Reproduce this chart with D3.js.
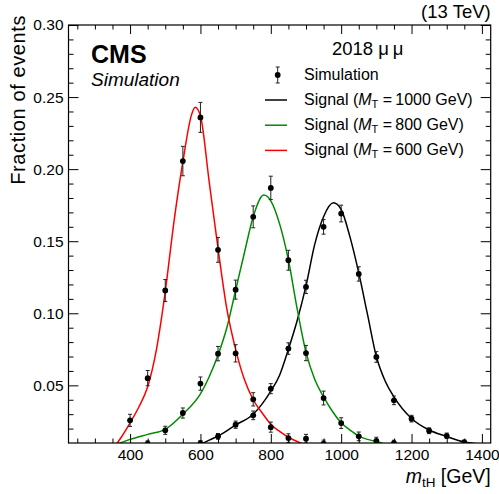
<!DOCTYPE html>
<html><head><meta charset="utf-8">
<script src="https://cdn.jsdelivr.net/npm/d3@7"></script>
<style>
body{margin:0;background:#fff}
svg{display:block}
text{font-family:"Liberation Sans",Arial,Helvetica,sans-serif;fill:#000}
</style>
</head><body>
<svg id="c" width="499" height="494"></svg>
<script>
// ---- data ----
const massBins = [400,450,500,550,600,650,700,750,800,850,900,950,1000,1050,1100,1150,1200,1250,1300,1350];

const sim600    = [0.0257,0.0550,0.1158,0.2056,0.2359,0.1440,0.0722,0.0403,0.0210,0.0134,0.0130,0.0095,null,null,null,null,null,null,null,null];
const sim600Err = [0.0042,0.0053,0.0076,0.0102,0.0104,0.0086,0.0060,0.0046,0.0035,0.0030,0.0030,0.0025,null,null,null,null,null,null,null,null];

const sim800    = [null,0.0095,0.0188,0.0308,0.0512,0.0720,0.1164,0.1669,0.1870,0.1368,0.0724,0.0412,0.0238,0.0146,0.0115,0.0099,null,null,null,null];
const sim800Err = [null,0.0020,0.0028,0.0035,0.0046,0.0050,0.0066,0.0076,0.0081,0.0069,0.0053,0.0048,0.0037,0.0030,0.0025,0.0020,null,null,null,null];

const sim1000    = [null,null,null,null,0.0097,0.0146,0.0227,0.0292,0.0477,0.0755,0.1183,0.1600,0.1692,0.1273,0.0697,0.0396,0.0269,0.0185,0.0150,0.0104];
const sim1000Err = [null,null,null,null,0.0020,0.0020,0.0025,0.0030,0.0035,0.0040,0.0046,0.0051,0.0058,0.0050,0.0037,0.0030,0.0023,0.0020,0.0019,0.0017];

// fitted signal shapes, sampled by eye
const fit600X = [362,375,400,425,450,475,500,525,550,575,585,600,625,650,675,700,725,750,775,800,825,850,875,895];
const fit600Y = [0.0095,0.014,0.024,0.035,0.049,0.075,0.115,0.164,0.205,0.238,0.243,0.237,0.191,0.145,0.103,0.075,0.054,0.040,0.031,0.023,0.018,0.014,0.011,0.009];

const fit800X = [366,400,450,500,550,600,625,650,675,700,725,750,780,800,825,850,875,900,925,950,975,1000,1025,1050,1075,1100,1120];
const fit800Y = [0.0095,0.0125,0.016,0.0195,0.030,0.044,0.056,0.071,0.090,0.116,0.142,0.167,0.182,0.178,0.162,0.137,0.103,0.073,0.054,0.042,0.032,0.024,0.019,0.0148,0.0125,0.011,0.0095];

const fit1000X = [604,625,650,700,750,775,800,825,850,875,900,925,950,978,1000,1025,1050,1075,1100,1125,1150,1200,1250,1300,1350,1385];
const fit1000Y = [0.0095,0.012,0.0148,0.0225,0.030,0.037,0.046,0.057,0.075,0.095,0.119,0.148,0.167,0.1766,0.172,0.153,0.128,0.099,0.070,0.053,0.042,0.027,0.019,0.0145,0.0107,0.0095];

const xTicks = [400,600,800,1000,1200,1400];
const yTicks = [0.05,0.10,0.15,0.20,0.25,0.30];
const legendMasses = ["1000","800","600"];

// ---- drawing ----
const svg = d3.select("#c");
const L = 68.5, R = 490.7, T = 25, B = 443;
const x = d3.scaleLinear().domain([225,1425]).range([L,R]);
const y = d3.scaleLinear().domain([0.01,0.30]).range([B,T]);

const colors = {c600:"#ff0000", c800:"#008c00", c1000:"#000000"};

svg.append("defs").append("clipPath").attr("id","plotclip")
  .append("rect").attr("x",L).attr("y",T).attr("width",R-L).attr("height",B-T);

const plot = svg.append("g").attr("clip-path","url(#plotclip)");

const line = d3.line().x(d=>x(d[0])).y(d=>y(d[1])).curve(d3.curveMonotoneX);
function drawFit(xs, ys, col){
  plot.append("path").datum(xs.map((v,i)=>[v,ys[i]]))
    .attr("d",line).attr("fill","none").attr("stroke",col).attr("stroke-width",1.5);
}
drawFit(fit1000X, fit1000Y, colors.c1000);
drawFit(fit800X, fit800Y, colors.c800);
drawFit(fit600X, fit600Y, colors.c600);

function drawPoints(vals, errs){
  const pts = massBins.map((m,i)=>({m, v:vals[i], e:errs[i]})).filter(d=>d.v!=null);
  const g = plot.append("g");
  pts.forEach(d=>{
    const cx = x(d.m), y0 = y(d.v - d.e), y1 = y(d.v + d.e);
    g.append("line").attr("x1",cx).attr("x2",cx).attr("y1",y0).attr("y2",y1).attr("stroke","#222").attr("stroke-width",1);
    g.append("line").attr("x1",cx-2).attr("x2",cx+2).attr("y1",y0).attr("y2",y0).attr("stroke","#222").attr("stroke-width",1);
    g.append("line").attr("x1",cx-2).attr("x2",cx+2).attr("y1",y1).attr("y2",y1).attr("stroke","#222").attr("stroke-width",1);
    g.append("circle").attr("cx",cx).attr("cy",y(d.v)).attr("r",2.9).attr("fill","#000");
  });
}
drawPoints(sim600, sim600Err);
drawPoints(sim800, sim800Err);
drawPoints(sim1000, sim1000Err);

// axes
const fs = "15.5px";
function styleAxis(g){ g.select(".domain").remove(); g.selectAll("line").attr("stroke","#000"); g.selectAll("text").attr("font-size",fs).attr("font-family","Liberation Sans, Arial, sans-serif"); }
const minorX = d3.range(250,1425,50).filter(v=>!xTicks.includes(v));
const minorY = d3.range(1,31).map(i=>i/100).filter(v=>!yTicks.some(t=>Math.abs(t-v)<1e-9) && v>0.0101);

svg.append("g").attr("transform",`translate(0,${B})`)
  .call(d3.axisBottom(x).tickValues(xTicks).tickSize(-9).tickPadding(6).tickFormat(d3.format("d"))).call(styleAxis);
svg.append("g").attr("transform",`translate(0,${B})`)
  .call(d3.axisBottom(x).tickValues(minorX).tickSize(-4.5).tickFormat("")).call(styleAxis);
svg.append("g").attr("transform",`translate(0,${T})`)
  .call(d3.axisTop(x).tickValues(xTicks).tickSize(-9).tickFormat("")).call(styleAxis);
svg.append("g").attr("transform",`translate(0,${T})`)
  .call(d3.axisTop(x).tickValues(minorX).tickSize(-4.5).tickFormat("")).call(styleAxis);

svg.append("g").attr("transform",`translate(${L},0)`)
  .call(d3.axisLeft(y).tickValues(yTicks).tickSize(-10).tickPadding(5).tickFormat(d3.format(".2f"))).call(styleAxis);
svg.append("g").attr("transform",`translate(${L},0)`)
  .call(d3.axisLeft(y).tickValues(minorY).tickSize(-5).tickFormat("")).call(styleAxis);
svg.append("g").attr("transform",`translate(${R},0)`)
  .call(d3.axisRight(y).tickValues(yTicks).tickSize(-10).tickFormat("")).call(styleAxis);
svg.append("g").attr("transform",`translate(${R},0)`)
  .call(d3.axisRight(y).tickValues(minorY).tickSize(-5).tickFormat("")).call(styleAxis);

svg.append("rect").attr("x",L).attr("y",T).attr("width",R-L).attr("height",B-T)
  .attr("fill","none").attr("stroke","#000").attr("stroke-width",1.2);

// axis titles
svg.append("text").attr("transform","translate(25,15) rotate(-90)")
  .attr("text-anchor","end").attr("font-size","20px").attr("letter-spacing","0.6px").text("Fraction of events");
const xt = svg.append("text").attr("x",R).attr("y",483).attr("text-anchor","end").attr("font-size","19.5px");
xt.append("tspan").attr("font-style","italic").text("m");
xt.append("tspan").attr("font-size","13.5px").attr("dy",4).text("tH");
xt.append("tspan").attr("dy",-4).text(" [GeV]");

// header texts
svg.append("text").attr("x",R).attr("y",18).attr("text-anchor","end").attr("font-size","18.5px").text("(13 TeV)");
svg.append("text").attr("x",91).attr("y",63).attr("font-size","25px").attr("font-weight","bold").text("CMS");
svg.append("text").attr("x",91).attr("y",86).attr("font-size","19px").attr("font-style","italic").text("Simulation");
svg.append("text").attr("x",332).attr("y",55).attr("font-size","18.5px").text("2018 μ\u2009μ");

// legend
const lg = svg.append("g");
const lx0 = 265, lx1 = 287, tx = 304;
// simulation entry
lg.append("line").attr("x1",277.7).attr("x2",277.7).attr("y1",67).attr("y2",83).attr("stroke","#222");
lg.append("line").attr("x1",275.7).attr("x2",279.7).attr("y1",67).attr("y2",67).attr("stroke","#222");
lg.append("line").attr("x1",275.7).attr("x2",279.7).attr("y1",83).attr("y2",83).attr("stroke","#222");
lg.append("circle").attr("cx",277.7).attr("cy",75).attr("r",2.9).attr("fill","#000");
lg.append("text").attr("x",tx).attr("y",79.5).attr("font-size","16px").text("Simulation");
const legCols = [colors.c1000, colors.c800, colors.c600];
legendMasses.forEach((m,i)=>{
  const by = 104.5 + i*25.2;
  lg.append("line").attr("x1",lx0).attr("x2",lx1).attr("y1",by-4.5).attr("y2",by-4.5).attr("stroke",legCols[i]).attr("stroke-width",1.5);
  const t = lg.append("text").attr("x",tx).attr("y",by).attr("font-size","16px");
  t.append("tspan").text("Signal (");
  t.append("tspan").attr("font-style","italic").text("M");
  t.append("tspan").attr("font-size","11px").attr("dy",3).text("T");
  t.append("tspan").attr("dy",-3).text(" =\u2009" + m + " GeV)");
});
</script>
</body></html>
